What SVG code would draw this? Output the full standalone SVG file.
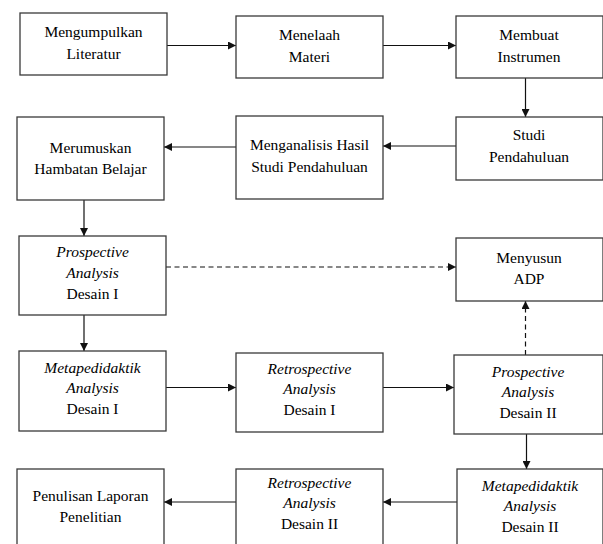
<svg xmlns="http://www.w3.org/2000/svg" width="603" height="544" viewBox="0 0 603 544">
<style>
.box{fill:#fff;stroke:#3a3a3a;stroke-width:1.3}
.t{font-family:'Liberation Serif','Times New Roman',serif;font-size:15.5px;fill:#000;text-anchor:middle}
.i{font-style:italic}
.c{stroke:#111;stroke-width:1.2;fill:none}
.d{stroke-dasharray:5,3.5}
</style>
<defs>
<marker id="ah" viewBox="0 0 10 10" refX="10" refY="5" markerWidth="8" markerHeight="8" markerUnits="userSpaceOnUse" orient="auto">
<path d="M0,0 L10,5 L0,10 z" fill="#111"/>
</marker>
</defs>
<rect width="603" height="544" fill="#fff"/>
<g id="connectors">
<line class="c" x1="167" y1="45.5" x2="236" y2="45.5" marker-end="url(#ah)"/>
<line class="c" x1="383" y1="45.5" x2="456" y2="45.5" marker-end="url(#ah)"/>
<line class="c" x1="525.5" y1="78" x2="525.5" y2="117" marker-end="url(#ah)"/>
<line class="c" x1="456" y1="146" x2="383" y2="146" marker-end="url(#ah)"/>
<line class="c" x1="236" y1="147" x2="164" y2="147" marker-end="url(#ah)"/>
<line class="c" x1="84" y1="200" x2="84" y2="236" marker-end="url(#ah)"/>
<line class="c d" x1="166" y1="267" x2="456" y2="267" marker-end="url(#ah)"/>
<line class="c" x1="84" y1="315" x2="84" y2="351" marker-end="url(#ah)"/>
<line class="c" x1="166" y1="387.5" x2="236" y2="387.5" marker-end="url(#ah)"/>
<line class="c" x1="383" y1="387.5" x2="454" y2="387.5" marker-end="url(#ah)"/>
<line class="c d" x1="525.5" y1="355" x2="525.5" y2="301" marker-end="url(#ah)"/>
<line class="c" x1="526.5" y1="434" x2="526.5" y2="469" marker-end="url(#ah)"/>
<line class="c" x1="457" y1="502" x2="383" y2="502" marker-end="url(#ah)"/>
<line class="c" x1="236" y1="502" x2="164" y2="502" marker-end="url(#ah)"/>
</g>
<g id="n1"><rect class="box" x="20" y="13" width="147" height="62"/>
<text class="t" x="93.5" y="37">Mengumpulkan</text><text class="t" x="93.5" y="59">Literatur</text></g>
<g id="n2"><rect class="box" x="236" y="16" width="147" height="62"/>
<text class="t" x="309.5" y="40">Menelaah</text><text class="t" x="309.5" y="62">Materi</text></g>
<g id="n3"><rect class="box" x="456" y="16" width="147" height="62"/>
<text class="t" x="529" y="40">Membuat</text><text class="t" x="529" y="62">Instrumen</text></g>
<g id="n4"><rect class="box" x="456" y="117" width="147" height="63"/>
<text class="t" x="529" y="140">Studi</text><text class="t" x="529" y="162">Pendahuluan</text></g>
<g id="n5"><rect class="box" x="236" y="116" width="147" height="83"/>
<text class="t" x="309.5" y="150">Menganalisis Hasil</text><text class="t" x="309.5" y="172">Studi Pendahuluan</text></g>
<g id="n6"><rect class="box" x="17" y="117" width="147" height="83"/>
<text class="t" x="90.5" y="153">Merumuskan</text><text class="t" x="90.5" y="174">Hambatan Belajar</text></g>
<g id="n7"><rect class="box" x="19" y="236" width="147" height="79"/>
<text class="t i" x="92.5" y="257">Prospective</text><text class="t i" x="92.5" y="278">Analysis</text><text class="t" x="92.5" y="299">Desain I</text></g>
<g id="n8"><rect class="box" x="19" y="351" width="147" height="80"/>
<text class="t i" x="92.5" y="373">Metapedidaktik</text><text class="t i" x="92.5" y="393">Analysis</text><text class="t" x="92.5" y="414">Desain I</text></g>
<g id="n9"><rect class="box" x="456" y="238" width="147" height="63"/>
<text class="t" x="529" y="263">Menyusun</text><text class="t" x="529" y="284">ADP</text></g>
<g id="n10"><rect class="box" x="236" y="353" width="147" height="79"/>
<text class="t i" x="309.5" y="374">Retrospective</text><text class="t i" x="309.5" y="394">Analysis</text><text class="t" x="309.5" y="415">Desain I</text></g>
<g id="n11"><rect class="box" x="454" y="355" width="149" height="79"/>
<text class="t i" x="528" y="377">Prospective</text><text class="t i" x="528" y="397">Analysis</text><text class="t" x="528" y="418">Desain II</text></g>
<g id="n12"><rect class="box" x="457" y="469" width="146" height="90"/>
<text class="t i" x="530" y="491">Metapedidaktik</text><text class="t i" x="530" y="511">Analysis</text><text class="t" x="530" y="532">Desain II</text></g>
<g id="n13"><rect class="box" x="236" y="469" width="147" height="90"/>
<text class="t i" x="309.5" y="488">Retrospective</text><text class="t i" x="309.5" y="508">Analysis</text><text class="t" x="309.5" y="529">Desain II</text></g>
<g id="n14"><rect class="box" x="17" y="469" width="147" height="90"/>
<text class="t" x="90.5" y="501">Penulisan Laporan</text><text class="t" x="90.5" y="522">Penelitian</text></g>
</svg>
